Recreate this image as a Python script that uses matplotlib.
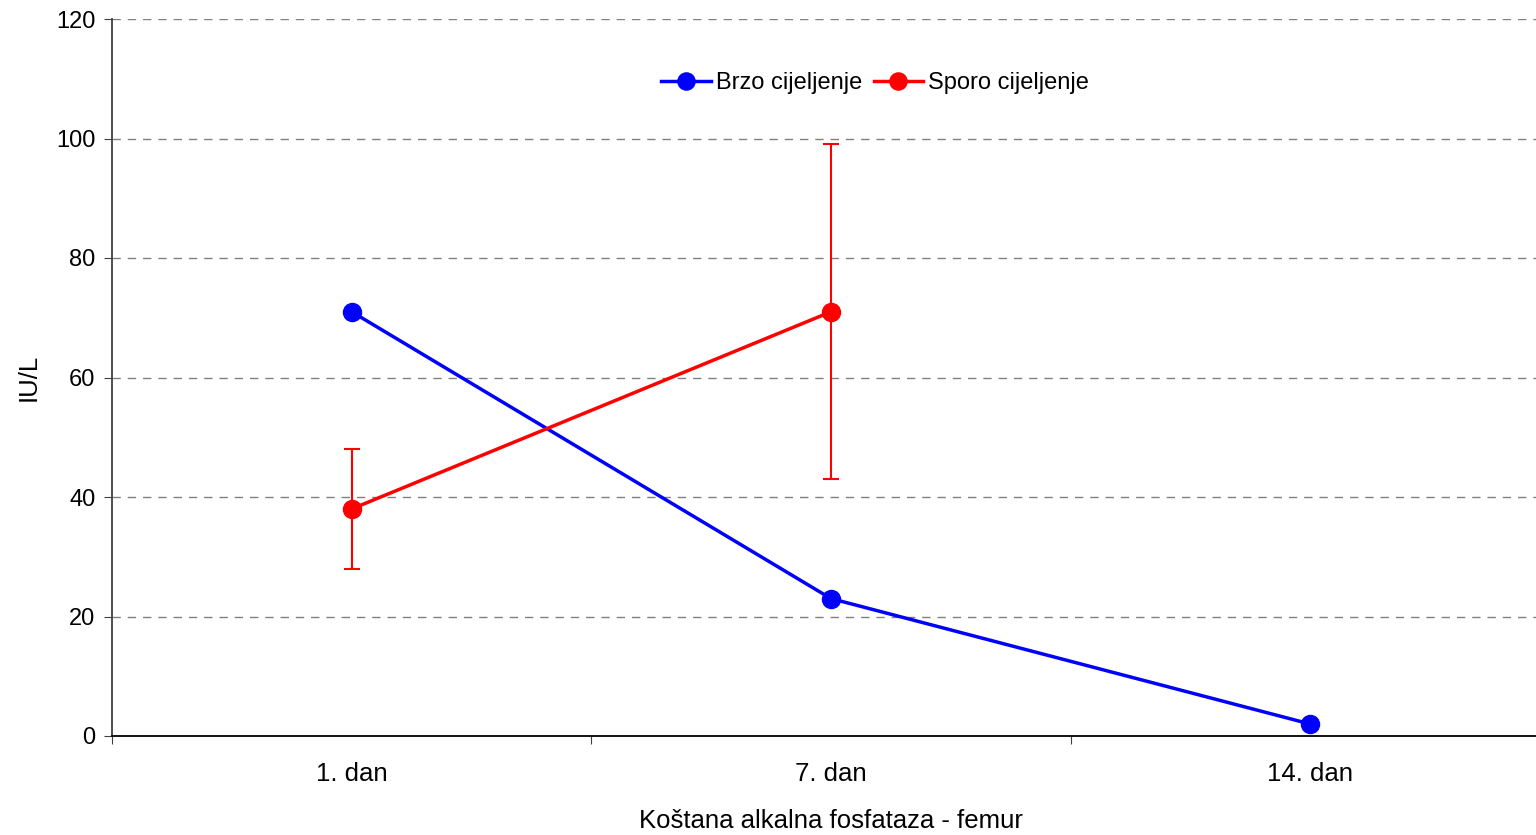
import numpy as np
import matplotlib.pyplot as plt

plt.rcParams['font.family'] = ['Liberation Sans', 'DejaVu Sans']

# Data
categories = ['1. dan', '7. dan', '14. dan']
brzo = [71, 23, 2]
sporo = [38, 71]
sporo_low = [28, 43]
sporo_high = [48, 99]

x = np.arange(len(categories)) + 0.5

fig = plt.figure(figsize=(15.36, 8.35), dpi=100)
ax = fig.add_axes([112 / 1536, 1 - 736 / 835, 1438 / 1536, (736 - 19) / 835])

# Gridlines
for yv in range(20, 121, 20):
    ax.axhline(yv, color='#808080', lw=1.0, ls=(0, (6, 5)), zorder=0)

ax.plot(x, brzo, color='#0000ff', lw=2.5, marker='o', ms=13, label='Brzo cijeljenje', zorder=3)
sp = np.array(sporo)
yerr = [sp - np.array(sporo_low), np.array(sporo_high) - sp]
ax.errorbar(x[:2], sporo, yerr=yerr, fmt='none', ecolor='#ff0000', elinewidth=1.5,
            capsize=6, capthick=1.5, zorder=2)
ax.plot(x[:2], sporo, color='#ff0000', lw=2.5, marker='o', ms=13, label='Sporo cijeljenje', zorder=4)

ax.set_xlim(0, 3)
ax.set_ylim(0, 120)
ax.set_yticks(range(0, 121, 20))
ax.set_xticks([0, 1, 2, 3])
ax.set_xticklabels([])
ax.set_xticks(x, minor=True)
ax.set_xticklabels(categories, minor=True)
ax.tick_params(axis='x', which='minor', length=0, labelsize=18.5, pad=19)
ax.tick_params(axis='x', which='major', length=6, direction='out', color='#404040')
ax.tick_params(axis='y', length=6, direction='out', labelsize=17, color='#404040', pad=6)

for s in ['top', 'right']:
    ax.spines[s].set_visible(False)
ax.spines['left'].set_color('#404040')
ax.spines['left'].set_linewidth(1.3)
ax.spines['bottom'].set_color('#000000')
ax.spines['bottom'].set_linewidth(1.3)

ax.set_xlabel('Koštana alkalna fosfataza - femur', fontsize=18.5, labelpad=16)
ax.set_ylabel('IU/L', fontsize=18.5, labelpad=11)

ax.legend(loc='center', bbox_to_anchor=(875 / 1536, 1 - 83 / 835), bbox_transform=fig.transFigure,
          ncol=2, frameon=False, fontsize=17, handlelength=2.1, handletextpad=0.2,
          columnspacing=0.5, markerscale=0.95)

fig.savefig('out.png', dpi=100)
